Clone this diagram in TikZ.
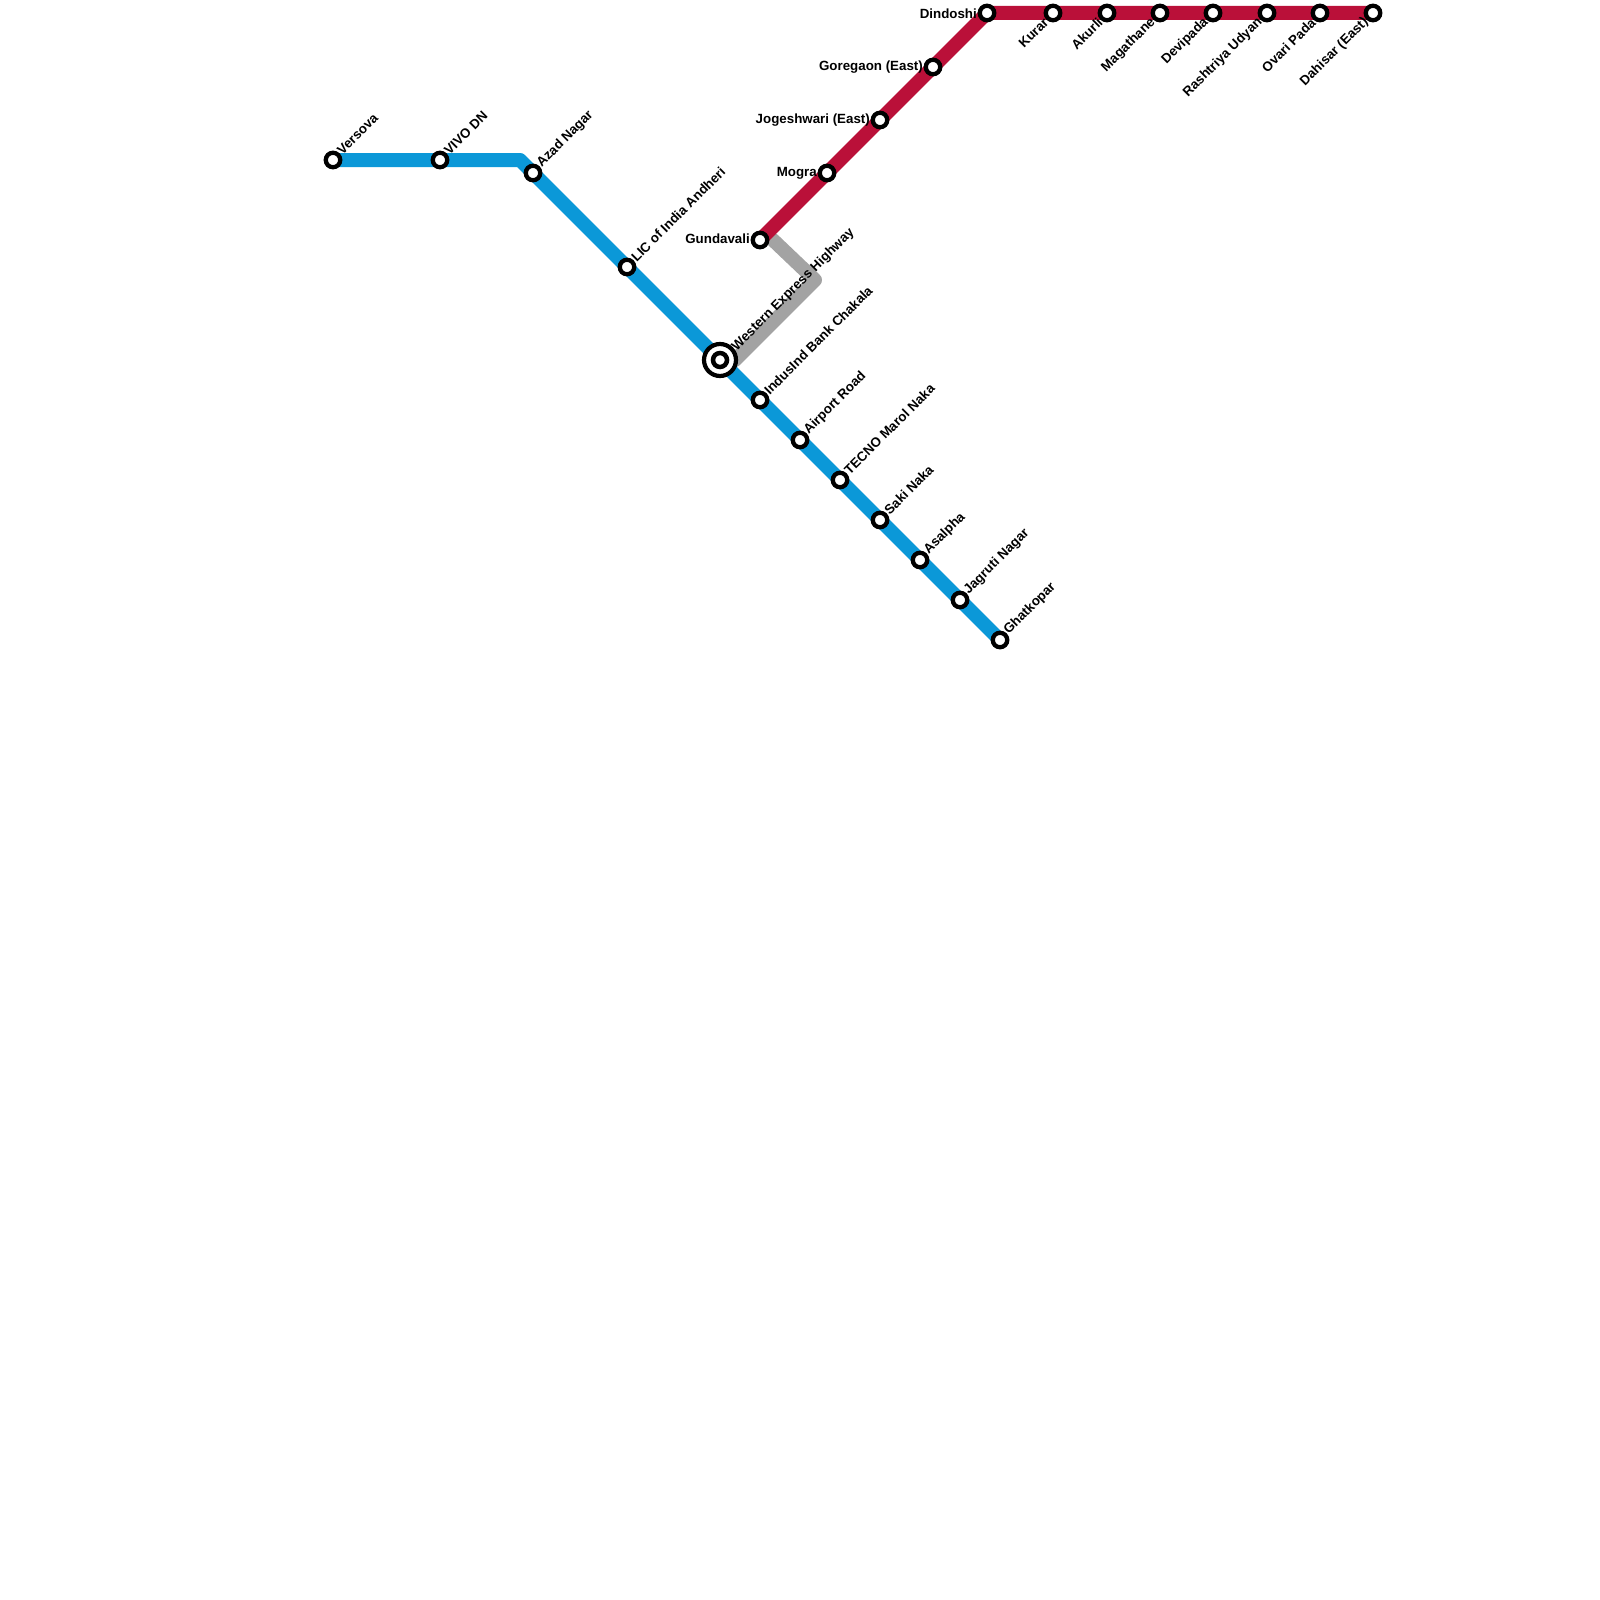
\documentclass[tikz,border=0pt]{standalone}
\usepackage{fontspec}
\setmainfont{Liberation Sans}
\begin{document}
\begin{tikzpicture}[x=1pt,y=-1pt,
  track/.style={line width=14pt,line join=round,line cap=butt},
  stn/.style={circle,draw=black,fill=white,line width=4.3pt,minimum size=14.5pt,inner sep=0pt},
  hub/.style={circle,draw=black,fill=white,line width=4.2pt,minimum size=32pt,inner sep=0pt},
  hubin/.style={circle,draw=black,fill=white,line width=4.5pt,minimum size=14pt,inner sep=0pt},
  txt/.style={font=\fontsize{13.33}{13.33}\selectfont\bfseries,inner sep=0pt,text=black},
  up/.style={txt,rotate=45,anchor=west},
  dn/.style={txt,rotate=45,anchor=east},
  lf/.style={txt,anchor=east}]
\useasboundingbox (0,0) rectangle (1600,1600);
\definecolor{blueline}{HTML}{0B98D8}
\definecolor{redline}{HTML}{BA1039}
\definecolor{grayline}{HTML}{A3A3A3}
% positions
\coordinate (versova) at (333,160);
\coordinate (vivo) at (440,160);
\coordinate (bend) at (520,160);
\coordinate (azad) at (533,173);
\coordinate (lic) at (627,267);
\coordinate (west) at (720,360);
\coordinate (indus) at (760,400);
\coordinate (airport) at (800,440);
\coordinate (tecno) at (840,480);
\coordinate (saki) at (880,520);
\coordinate (asalpha) at (920,560);
\coordinate (jagruti) at (960,600);
\coordinate (ghat) at (1000,640);
\coordinate (gunda) at (760,240);
\coordinate (mogra) at (827,173);
\coordinate (jog) at (880,120);
\coordinate (gor) at (933,67);
\coordinate (dind) at (987,13);
\coordinate (kurar) at (1053,13);
\coordinate (akurli) at (1107,13);
\coordinate (maga) at (1160,13);
\coordinate (devi) at (1213,13);
\coordinate (rash) at (1267,13);
\coordinate (ovari) at (1320,13);
\coordinate (dahisar) at (1373,13);
\coordinate (gs) at (773,240);
\coordinate (gc) at (815,280);
\coordinate (ge) at (735,360);
% lines
\draw[track,grayline,line cap=round] (west) -- (ge) -- (gc) -- (gs);
\draw[track,redline] (gunda) -- (dind) -- (dahisar);
\draw[track,blueline] (versova) -- (bend) -- (ghat);
% stations
\foreach \n/\m in {versova/s1,vivo/s2,azad/s3,lic/s4,indus/s5,airport/s6,tecno/s7,saki/s8,asalpha/s9,jagruti/s10,ghat/s11,gunda/s12,mogra/s13,jog/s14,gor/s15,dind/s16,kurar/s17,akurli/s18,maga/s19,devi/s20,rash/s21,ovari/s22,dahisar/s23}
  \node[stn] (\m) at (\n) {};
\node[hub] (s0) at (west) {};
\node[hubin] (s0i) at (west) {};
% labels
\foreach \n/\t in {versova/Versova,vivo/VIVO DN,azad/Azad Nagar,lic/LIC of India Andheri,indus/IndusInd Bank Chakala,airport/Airport Road,tecno/TECNO Marol Naka,saki/Saki Naka,asalpha/Asalpha,jagruti/Jagruti Nagar,ghat/Ghatkopar}
  \node[up] (l-\n) at ([shift={(2,-3.5)}]\n) {\hspace*{6pt}\t};
\node[up] (l-west) at ([shift={(10,-7)}]west) {\hspace*{6pt}Western Express Highway};
\foreach \n/\t in {kurar/Kurar,akurli/Akurli,maga/Magathane,devi/Devipada,rash/Rashtriya Udyan,ovari/Ovari Pada,dahisar/Dahisar (East)}
  \node[dn] (l-\n) at ([shift={(-2.5,3)}]\n) {\t\hspace*{6pt}};
\foreach \n/\t in {mogra/Mogra,jog/Jogeshwari (East),gor/Goregaon (East),dind/Dindoshi}
  \node[lf] (l-\n) at ([shift={(-10,0.3)}]\n) {\t};
\node[lf] (l-gunda) at ([shift={(-10,-1)}]gunda) {Gundavali};
\end{tikzpicture}
\end{document}
